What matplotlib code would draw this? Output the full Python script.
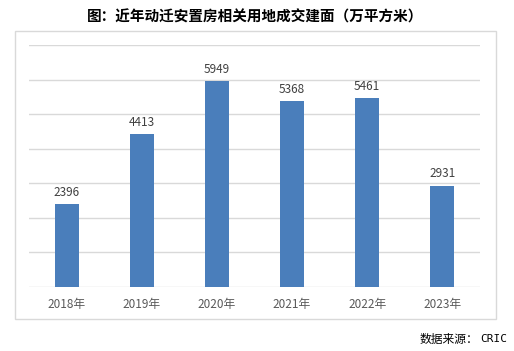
import matplotlib
matplotlib.use("Agg")
import matplotlib.pyplot as plt
from matplotlib.patches import Rectangle

categories = ["2018年", "2019年", "2020年", "2021年", "2022年", "2023年"]
values = [2396, 4413, 5949, 5368, 5461, 2931]
title = "图：近年动迁安置房相关用地成交建面（万平方米）"
source_label = "数据来源："
source_name = "CRIC"

plt.rcParams['font.family'] = ['Noto Sans CJK SC', 'DejaVu Sans']

fig = plt.figure(figsize=(5.14, 3.51), dpi=100)
fig.patch.set_facecolor("white")

# outer frame
fig.add_artist(Rectangle((15/514, 1-319/351), (496-15)/514, (319-31)/351,
                         transform=fig.transFigure, fill=False,
                         edgecolor="#d9d9d9", linewidth=1.0))

ax = fig.add_axes([29/514, 1-287/351, (480-29)/514, (287-45)/351])
x = range(len(categories))
bars = ax.bar(x, values, width=0.32, color="#4a7ebb", zorder=3)
ax.set_xlim(-0.5, len(categories)-0.5)
ax.set_ylim(0, 7000)
ax.set_yticks(range(0, 7001, 1000))
ax.yaxis.grid(True, color="#d9d9d9", linewidth=1.0, zorder=0)
ax.tick_params(axis='y', left=False, labelleft=False)
ax.tick_params(axis='x', length=0, pad=8, labelsize=8.5, labelcolor="#595959")
ax.set_xticks(list(x))
ax.set_xticklabels(categories)
for s in ax.spines.values():
    s.set_visible(False)
for xi, v in zip(x, values):
    ax.annotate(f"{v}", (xi, v), xytext=(0, 4), textcoords="offset points",
                ha="center", va="bottom", fontsize=8.5, color="#404040")

fig.text(255/514, 1-17/351, title, ha="center", va="center",
         fontsize=10.5, fontweight="bold", color="#000000")
fig.text(507/514, 1-339/351, source_name, ha="right", va="center",
         fontsize=8, color="#000000", family=['DejaVu Sans Mono'])
fig.text(478/514, 1-339/351, source_label, ha="right", va="center",
         fontsize=8.5, color="#000000",
         family=['Noto Sans CJK SC', 'DejaVu Sans'])

fig.savefig("out.png", dpi=100, facecolor="white")
